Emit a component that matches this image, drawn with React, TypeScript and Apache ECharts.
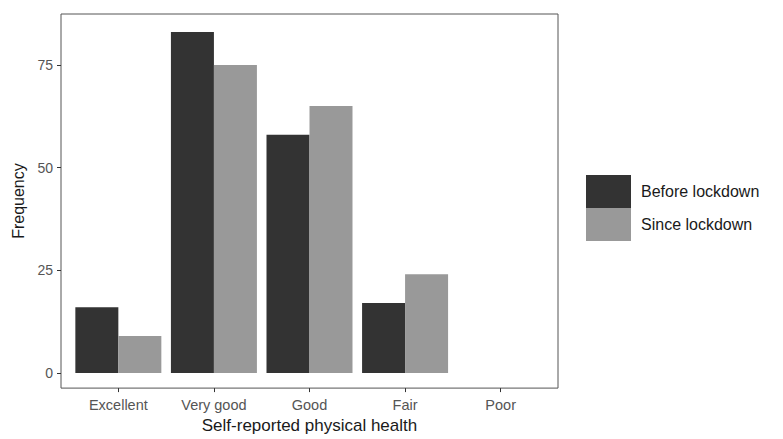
import React, { useEffect, useRef } from "react";
import * as echarts from "echarts";

const categories = ["Excellent", "Very good", "Good", "Fair", "Poor"];
const beforeLockdown = [16, 83, 58, 17, 0];
const sinceLockdown = [9, 75, 65, 24, 0];
const yTicks = [0, 25, 50, 75];
const xPositions = [1, 2, 3, 4, 5];

export default function App() {
  const ref = useRef<HTMLDivElement>(null);
  useEffect(() => {
    document.body.style.margin = "0";
    const chart = echarts.init(ref.current!, null, { renderer: "svg" });
    const font = "Liberation Sans, Arial, sans-serif";
    chart.setOption({
      animation: false,
      backgroundColor: "#ffffff",
      textStyle: { fontFamily: font },
      grid: {
        left: 61,
        right: 783 - 558,
        top: 14,
        bottom: 439 - 393,
        show: true,
        borderColor: "#555555",
        borderWidth: 1,
        containLabel: false,
      },
      legend: {
        orient: "vertical",
        left: 586,
        top: 175,
        padding: 0,
        itemWidth: 45,
        itemHeight: 33,
        itemGap: 0,
        icon: "rect",
        textStyle: { fontSize: 16, color: "#1a1a1a", fontFamily: font, padding: [0, 0, 0, 5] },
        data: ["Before lockdown", "Since lockdown"],
      },
      xAxis: {
        type: "value",
        min: 0.4,
        max: 5.6,
        name: "Self-reported physical health",
        nameLocation: "middle",
        nameGap: 28,
        nameTextStyle: { fontSize: 17, color: "#1a1a1a" },
        axisLine: { show: false, onZero: false },
        splitLine: { show: false },
        axisTick: {
          show: true,
          length: 4,
          customValues: xPositions,
          lineStyle: { color: "#333333" },
        },
        axisLabel: {
          customValues: xPositions,
          fontSize: 14.5,
          color: "#555555",
          margin: 9,
          formatter: (v: number) => categories[Math.round(v) - 1] ?? "",
        },
      },
      yAxis: {
        type: "value",
        min: -3.7,
        max: 87.4,
        name: "Frequency",
        nameLocation: "middle",
        nameRotate: 90,
        nameGap: 32,
        nameTextStyle: { fontSize: 16, color: "#1a1a1a" },
        axisLine: { show: false, onZero: false },
        splitLine: { show: false },
        axisTick: {
          show: true,
          length: 4,
          customValues: yTicks,
          lineStyle: { color: "#333333" },
        },
        axisLabel: {
          customValues: yTicks,
          fontSize: 14,
          color: "#555555",
          margin: 8,
        },
      },
      series: [
        {
          name: "Before lockdown",
          type: "bar",
          barWidth: 43,
          barGap: "0%",
          itemStyle: { color: "#333333" },
          data: xPositions.map((x, i) => [x, beforeLockdown[i]]),
        },
        {
          name: "Since lockdown",
          type: "bar",
          barWidth: 43,
          barGap: "0%",
          itemStyle: { color: "#999999" },
          data: xPositions.map((x, i) => [x, sinceLockdown[i]]),
        },
      ],
    });
    return () => chart.dispose();
  }, []);
  return <div ref={ref} style={{ width: 783, height: 439 }} />;
}
